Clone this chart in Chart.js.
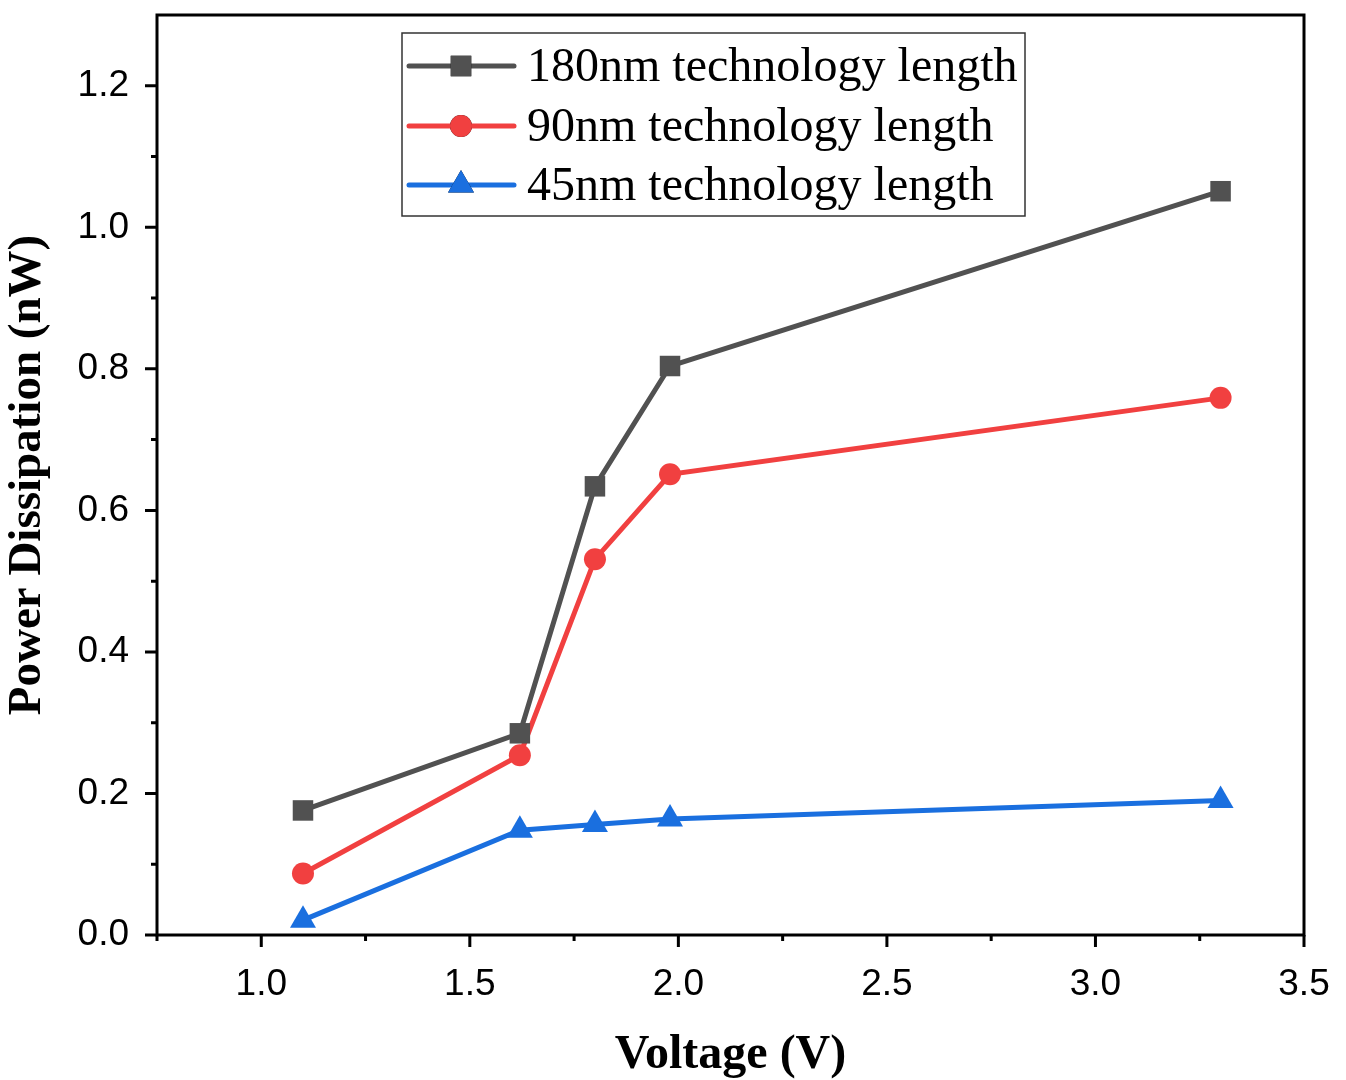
<!DOCTYPE html>
<html>
<head>
<meta charset="utf-8">
<script src="https://cdn.jsdelivr.net/npm/chart.js@4.4.1/dist/chart.umd.min.js"></script>
<style>
  html, body { margin: 0; padding: 0; background: #fff; }
  #wrap { width: 1346px; height: 1080px; }
</style>
</head>
<body>
<div id="wrap"><canvas id="powerChart" width="1346" height="1080"></canvas></div>
<script>
// data
var voltage = [1.1, 1.62, 1.8, 1.98, 3.3];
var power180 = [0.176, 0.285, 0.634, 0.804, 1.051];
var power90 = [0.087, 0.254, 0.531, 0.651, 0.759];
var power45 = [0.021, 0.148, 0.156, 0.164, 0.19];
var seriesNames = ['180nm technology length', '90nm technology length', '45nm technology length'];

function toPoints(ys) {
    return voltage.map(function (x, i) { return { x: x, y: ys[i] }; });
}

// frame, outward major/minor ticks and the boxed legend
var framePlugin = {
    id: 'frame',
    afterDraw: function (chart) {
        var ctx = chart.ctx;
        var a = chart.chartArea;
        var xs = chart.scales.x, ys = chart.scales.y;
        ctx.save();
        ctx.strokeStyle = '#000';
        ctx.lineWidth = 3;
        ctx.strokeRect(a.left, a.top, a.right - a.left, a.bottom - a.top);

        ctx.lineWidth = 3;
        ctx.beginPath();
        for (var i = 3; i <= 14; i++) {
            var v = i * 0.25;
            var px = xs.getPixelForValue(v);
            var len = (i % 2 === 0) ? 12 : 6;
            ctx.moveTo(px, a.bottom);
            ctx.lineTo(px, a.bottom + len);
        }
        for (var j = 0; j <= 12; j++) {
            var py = ys.getPixelForValue(j * 0.1);
            var l = (j % 2 === 0) ? 12 : 6;
            ctx.moveTo(a.left, py);
            ctx.lineTo(a.left - l, py);
        }
        ctx.stroke();

        // legend box
        var bx = 402, by = 33, bw = 623, bh = 183;
        ctx.lineWidth = 1.5;
        ctx.strokeStyle = '#333';
        ctx.strokeRect(bx, by, bw, bh);
        var rowY = [66, 126, 185];
        chart.data.datasets.forEach(function (ds, k) {
            var y = rowY[k];
            ctx.strokeStyle = ds.borderColor;
            ctx.lineWidth = 5;
            ctx.lineCap = 'round';
            ctx.beginPath();
            ctx.moveTo(409, y);
            ctx.lineTo(514, y);
            ctx.stroke();
            Chart.helpers.drawPoint(ctx, {
                pointStyle: ds.pointStyle,
                radius: ds.pointRadius,
                borderWidth: 0,
                rotation: 0
            }, 461, y);
            ctx.fillStyle = ds.pointBackgroundColor;
            ctx.fill();
            ctx.fillStyle = '#000';
            ctx.font = '48px "Liberation Serif", "Times New Roman", serif';
            ctx.textBaseline = 'middle';
            ctx.textAlign = 'left';
            ctx.fillText(ds.label, 527, y + 2);
        });
        ctx.restore();
    }
};

var canvas = document.getElementById('powerChart');
var powerChart = new Chart(canvas, {
    type: 'line',
    data: {
        datasets: [{
            label: seriesNames[0],
            data: toPoints(power180),
            borderColor: '#515151',
            backgroundColor: '#515151',
            pointBackgroundColor: '#515151',
            pointBorderColor: '#515151',
            borderWidth: 5,
            pointStyle: 'rect',
            pointRadius: 14.5,
            pointBorderWidth: 0
        }, {
            label: seriesNames[1],
            data: toPoints(power90),
            borderColor: '#F14040',
            backgroundColor: '#F14040',
            pointBackgroundColor: '#F14040',
            pointBorderColor: '#F14040',
            borderWidth: 5,
            pointStyle: 'circle',
            pointRadius: 11,
            pointBorderWidth: 0
        }, {
            label: seriesNames[2],
            data: toPoints(power45),
            borderColor: '#1A6FDF',
            backgroundColor: '#1A6FDF',
            pointBackgroundColor: '#1A6FDF',
            pointBorderColor: '#1A6FDF',
            borderWidth: 5,
            pointStyle: 'triangle',
            pointRadius: 15,
            pointBorderWidth: 0
        }]
    },
    options: {
        responsive: false,
        animation: false,
        layout: { padding: { top: 8, right: 42, left: 0, bottom: 0 } },
        plugins: {
            legend: { display: false },
            tooltip: { enabled: false }
        },
        scales: {
            x: {
                type: 'linear',
                min: 0.75,
                max: 3.5,
                grid: { display: false, drawTicks: false },
                border: { display: false },
                ticks: {
                    stepSize: 0.25,
                    padding: 28,
                    color: '#000',
                    maxRotation: 0,
                    autoSkip: false,
                    font: { family: '"Liberation Sans", Arial, sans-serif', size: 37 },
                    callback: function (v) {
                        var k = Math.round(v * 4);
                        return (k % 2 === 0 && k >= 4) ? (k / 4).toFixed(1) : '';
                    }
                },
                title: {
                    display: true,
                    text: 'Voltage (V)',
                    color: '#000',
                    padding: { top: 22, bottom: 0 },
                    font: { family: '"Liberation Serif", "Times New Roman", serif', size: 48, weight: 'bold', lineHeight: 1.0 }
                },
                afterFit: function (s) {
                    s.height = 145;
                    s.paddingLeft = 0;
                    s.paddingRight = 0;
                }
            },
            y: {
                min: 0,
                max: 1.3,
                grid: { display: false, drawTicks: false },
                border: { display: false },
                ticks: {
                    stepSize: 0.1,
                    padding: 28,
                    color: '#000',
                    autoSkip: false,
                    font: { family: '"Liberation Sans", Arial, sans-serif', size: 37 },
                    callback: function (v) {
                        var k = Math.round(v * 10);
                        return (k % 2 === 0 && k <= 12) ? (k / 10).toFixed(1) : '';
                    }
                },
                title: {
                    display: true,
                    text: 'Power Dissipation (nW)',
                    color: '#000',
                    padding: { top: 0, bottom: 6 },
                    font: { family: '"Liberation Serif", "Times New Roman", serif', size: 47, weight: 'bold' }
                },
                afterFit: function (s) {
                    s.width = 157;
                    s.paddingTop = 0;
                    s.paddingBottom = 0;
                }
            }
        }
    },
    plugins: [framePlugin]
});
</script>
</body>
</html>
